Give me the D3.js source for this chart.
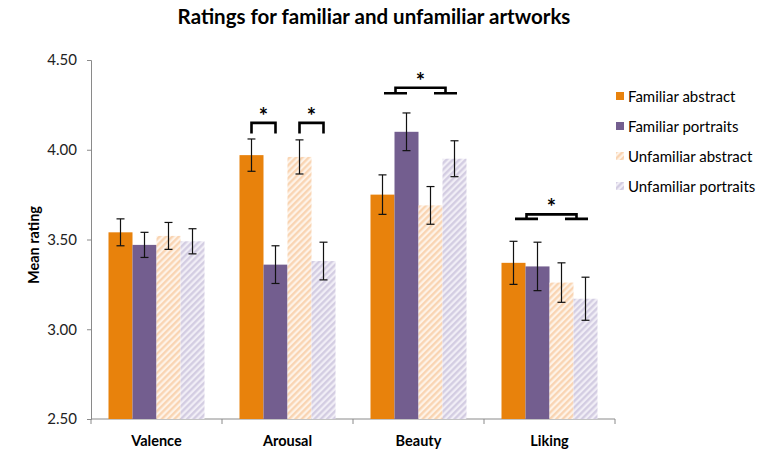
<!DOCTYPE html>
<html>
<head>
<meta charset="utf-8">
<script src="https://cdn.jsdelivr.net/npm/d3@7"></script>
<style>
  body { margin: 0; background: #fff; }
  svg { font-family: Lato, "Open Sans", sans-serif; }
</style>
</head>
<body>
<div id="chart"></div>
<script>
// Ratings for familiar and unfamiliar artworks
const categories = ["Valence", "Arousal", "Beauty", "Liking"];
const series = ["Familiar abstract", "Familiar portraits", "Unfamiliar abstract", "Unfamiliar portraits"];

// mean ratings, one value per category
const familiarAbstract = [3.54, 3.97, 3.75, 3.37];
const familiarPortraits = [3.47, 3.36, 4.10, 3.35];
const unfamiliarAbstract = [3.52, 3.96, 3.69, 3.26];
const unfamiliarPortraits = [3.49, 3.38, 3.95, 3.17];

// error bar half widths
const errFamiliarAbstract = [0.075, 0.09, 0.11, 0.12];
const errFamiliarPortraits = [0.07, 0.105, 0.105, 0.135];
const errUnfamiliarAbstract = [0.075, 0.095, 0.105, 0.11];
const errUnfamiliarPortraits = [0.07, 0.105, 0.10, 0.12];

const yTicks = [2.5, 3.0, 3.5, 4.0, 4.5];

// significance brackets: simple pairs and pair-of-pairs
const simpleBrackets = [
    { cat: "Arousal", a: 0, b: 1, top: 4.15, leg: 4.09 },
    { cat: "Arousal", a: 2, b: 3, top: 4.15, leg: 4.09 }
];
const groupBrackets = [
    { cat: "Beauty", top: 4.345, low: 4.315 },
    { cat: "Liking", top: 3.64, low: 3.615 }
];

const values = [familiarAbstract, familiarPortraits, unfamiliarAbstract, unfamiliarPortraits];
const errors = [errFamiliarAbstract, errFamiliarPortraits, errUnfamiliarAbstract, errUnfamiliarPortraits];

const rows = [];
series.forEach((s, i) => {
    categories.forEach((c, j) => {
        rows.push({ series: s, si: i, cat: c, value: values[i][j], err: errors[i][j] });
    });
});

const width = 759, height = 450;
const svg = d3.select("#chart").append("svg")
    .attr("width", width)
    .attr("height", height);

// hatch patterns for unfamiliar series
const defs = svg.append("defs");
function hatch(id, bg, stripe) {
    const p = defs.append("pattern")
        .attr("id", id)
        .attr("patternUnits", "userSpaceOnUse")
        .attr("width", 4.5)
        .attr("height", 4.5)
        .attr("patternTransform", "rotate(45)");
    p.append("rect").attr("width", 4.5).attr("height", 4.5).attr("fill", bg);
    p.append("line").attr("x1", 1.2).attr("x2", 1.2).attr("y1", 0).attr("y2", 4.5)
        .attr("stroke", stripe).attr("stroke-width", 2.2);
}
hatch("hatchOrange", "#fef3e8", "#f9d3b0");
hatch("hatchPurple", "#f1eef6", "#d2cbe1");

const fills = ["#e8820c", "#735e8f", "url(#hatchOrange)", "url(#hatchPurple)"];

const x0 = d3.scaleBand().domain(categories).range([91, 615]);
const x1 = d3.scaleBand().domain(series).range([17.5, x0.bandwidth() - 17.5]);
const y = d3.scaleLinear().domain([2.5, 4.5]).range([419, 60]);

// title
svg.append("text")
    .attr("x", 374).attr("y", 24)
    .attr("text-anchor", "middle")
    .style("font-size", "20.5px")
    .style("font-weight", "bold")
    .text("Ratings for familiar and unfamiliar artworks");

// y axis
const yAxis = svg.append("g")
    .attr("transform", "translate(91,0)")
    .call(d3.axisLeft(y).tickValues(yTicks).tickFormat(d3.format(".2f")).tickSizeOuter(0).tickSize(4).tickPadding(10));
yAxis.select(".domain").attr("stroke", "#8a8a8a");
yAxis.selectAll(".tick line").attr("stroke", "#8a8a8a");
yAxis.selectAll(".tick text").style("font-size", "15px").attr("fill", "#222").style("font-family", "Lato, sans-serif");

svg.append("text")
    .attr("transform", "translate(39,245) rotate(-90)")
    .attr("text-anchor", "middle")
    .style("font-size", "14.5px")
    .style("font-weight", "bold")
    .text("Mean rating");

// x axis
const xAxisG = svg.append("g").attr("transform", "translate(0,419)");
xAxisG.append("line")
    .attr("x1", x0.range()[0]).attr("x2", x0.range()[1])
    .attr("stroke", "#8a8a8a");
const boundaries = categories.map(c => x0(c)).concat([x0.range()[1]]);
xAxisG.selectAll("line.tk").data(boundaries).enter().append("line")
    .attr("class", "tk")
    .attr("x1", d => d).attr("x2", d => d)
    .attr("y1", 0).attr("y2", 5)
    .attr("stroke", "#8a8a8a");
xAxisG.selectAll("text").data(categories).enter().append("text")
    .attr("x", d => x0(d) + x0.bandwidth() / 2)
    .attr("y", 27)
    .attr("text-anchor", "middle")
    .style("font-size", "14.5px")
    .style("font-weight", "bold")
    .text(d => d);

// bars
const bx = d => x0(d.cat) + x1(d.series);
svg.append("g").selectAll("rect").data(rows).enter().append("rect")
    .attr("x", bx)
    .attr("width", x1.bandwidth())
    .attr("y", d => y(d.value))
    .attr("height", d => y(2.5) - y(d.value))
    .attr("fill", d => fills[d.si]);

// error bars
const eg = svg.append("g").attr("stroke", "#111").attr("stroke-width", 1.2);
const cx = d => bx(d) + x1.bandwidth() / 2;
eg.selectAll("line.v").data(rows).enter().append("line")
    .attr("x1", cx).attr("x2", cx)
    .attr("y1", d => y(d.value + d.err)).attr("y2", d => y(d.value - d.err));
eg.selectAll("line.t").data(rows).enter().append("line")
    .attr("x1", d => cx(d) - 4).attr("x2", d => cx(d) + 4)
    .attr("y1", d => y(d.value + d.err)).attr("y2", d => y(d.value + d.err));
eg.selectAll("line.b").data(rows).enter().append("line")
    .attr("x1", d => cx(d) - 4).attr("x2", d => cx(d) + 4)
    .attr("y1", d => y(d.value - d.err)).attr("y2", d => y(d.value - d.err));

// significance brackets
const center = (cat, i) => x0(cat) + x1(series[i]) + x1.bandwidth() / 2;
const sg = svg.append("g");
simpleBrackets.forEach(b => {
    const xa = center(b.cat, b.a), xb = center(b.cat, b.b);
    sg.append("path")
        .attr("d", `M${xa},${y(b.leg)}V${y(b.top)}H${xb}V${y(b.leg)}`)
        .attr("fill", "none").attr("stroke", "#000").attr("stroke-width", 2.6);
    sg.append("text")
        .attr("x", (xa + xb) / 2).attr("y", y(b.top) + 1)
        .attr("text-anchor", "middle")
        .style("font-size", "22px").style("font-weight", "bold")
        .text("*");
});
groupBrackets.forEach(b => {
    const w = x1.bandwidth() - 1;
    const l = (center(b.cat, 0) + center(b.cat, 1)) / 2 + 1;
    const r = (center(b.cat, 2) + center(b.cat, 3)) / 2 + 3;
    const yl = y(b.low), yt = y(b.top);
    sg.append("path")
        .attr("d", `M${l - w / 2},${yl}H${l + w / 2}M${r - w / 2},${yl}H${r + w / 2}M${l},${yl}V${yt}H${r}V${yl}`)
        .attr("fill", "none").attr("stroke", "#000").attr("stroke-width", 2.6);
    sg.append("text")
        .attr("x", (l + r) / 2).attr("y", yt + 1)
        .attr("text-anchor", "middle")
        .style("font-size", "22px").style("font-weight", "bold")
        .text("*");
});

// legend
const lg = svg.append("g").attr("transform", "translate(616,97)");
const items = lg.selectAll("g").data(series).enter().append("g")
    .attr("transform", (d, i) => `translate(0,${i * 30})`);
items.append("rect")
    .attr("x", 0).attr("y", -5).attr("width", 8).attr("height", 8)
    .attr("fill", (d, i) => fills[i]);
items.append("text")
    .attr("x", 12).attr("y", 0).attr("dy", "0.35em")
    .style("font-size", "15px")
    .text(d => d);
</script>
</body>
</html>
